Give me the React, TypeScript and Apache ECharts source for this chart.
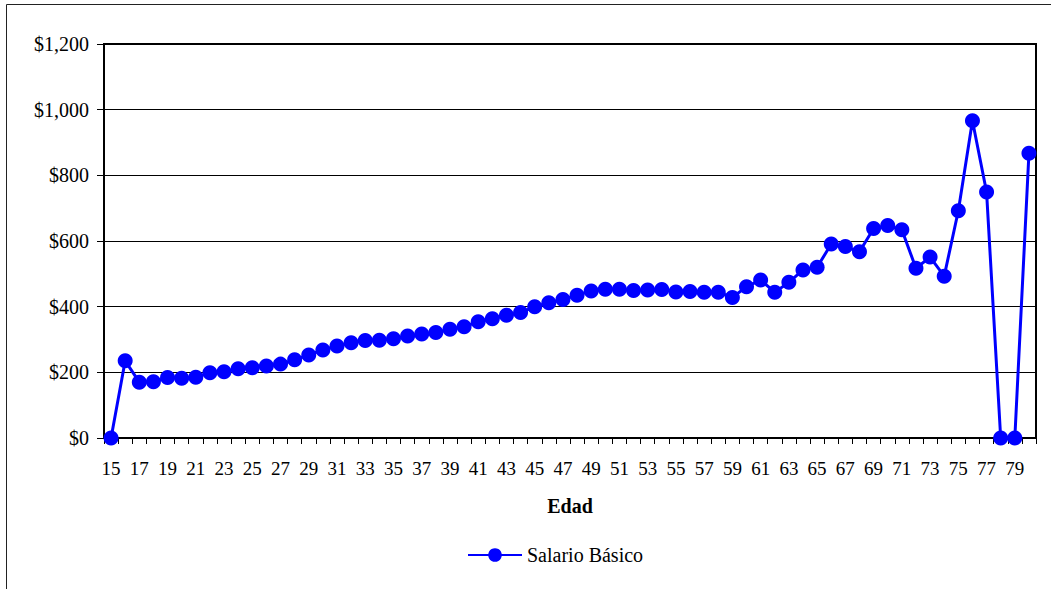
import React, { useEffect, useRef } from "react";
import * as echarts from "echarts";

const ages: string[] = [];
for (let a = 15; a <= 80; a++) ages.push(String(a));

const salarioBasico: number[] = [
  0, 235, 170, 171, 184, 182, 185, 199, 202, 211, 214, 219, 225, 238, 253, 268,
  280, 290, 297, 298, 302, 311, 317, 321, 331, 339, 354, 363, 374, 382, 400, 412,
  422, 435, 448, 453, 453, 449, 451, 452, 445, 446, 444, 444, 428, 461, 481, 444,
  474, 512, 520, 591, 583, 567, 638, 647, 634, 517, 551, 493, 692, 966, 749, 0,
  0, 867,
];

const seriesName = "Salario Básico";
const xAxisTitle = "Edad";
const yMin = 0;
const yMax = 1200;
const yStep = 200;

const FONT = "Liberation Serif";

function money(v: number): string {
  return "$" + v.toLocaleString("en-US");
}

export default function App() {
  const ref = useRef<HTMLDivElement>(null);
  useEffect(() => {
    if (!ref.current) return;
    const chart = echarts.init(ref.current, null, { renderer: "svg" });
    chart.setOption({
      animation: false,
      backgroundColor: "#fff",
      textStyle: { fontFamily: FONT, color: "#000" },
      graphic: [
        {
          type: "rect",
          shape: { x: 6.5, y: 4.5, width: 1100, height: 700 },
          style: { fill: "none", stroke: "#222", lineWidth: 1 },
          silent: true,
          z: -10,
        },
      ],
      grid: {
        left: 104,
        right: 15,
        top: 44,
        bottom: 151,
        show: true,
        borderColor: "#000",
        borderWidth: 2,
        backgroundColor: "transparent",
      },
      legend: {
        data: [seriesName],
        left: 462,
        top: 540,
        itemWidth: 54,
        itemHeight: 17,
        itemGap: 10,
        textStyle: { fontFamily: FONT, fontSize: 20, color: "#000" },
      },
      xAxis: {
        type: "category",
        data: ages,
        boundaryGap: true,
        name: xAxisTitle,
        nameLocation: "middle",
        nameGap: 58,
        nameTextStyle: { fontFamily: FONT, fontSize: 20, fontWeight: "bold", color: "#000" },
        axisLine: { show: true, lineStyle: { color: "#000", width: 2 } },
        axisTick: { show: true, interval: 0, length: 6, lineStyle: { color: "#000", width: 1 } },
        axisLabel: { interval: 1, fontFamily: FONT, fontSize: 19, color: "#000", margin: 21 },
        splitLine: { show: false },
      },
      yAxis: {
        type: "value",
        min: yMin,
        max: yMax,
        interval: yStep,
        axisLine: { show: true, lineStyle: { color: "#000", width: 2 } },
        axisTick: { show: true, length: 7, lineStyle: { color: "#000", width: 1 } },
        axisLabel: {
          fontFamily: FONT,
          fontSize: 20,
          color: "#000",
          margin: 15,
          formatter: (v: number) => money(v),
        },
        splitLine: { show: true, lineStyle: { color: "#000", width: 1 } },
      },
      series: [
        {
          name: seriesName,
          type: "line",
          data: salarioBasico,
          symbol: "circle",
          symbolSize: 15,
          showAllSymbol: true,
          clip: false,
          lineStyle: { color: "#0000FF", width: 3 },
          itemStyle: { color: "#0000FF", borderWidth: 0 },
        },
      ],
    });
    return () => chart.dispose();
  }, []);
  return (
    <div
      ref={ref}
      style={{ position: "absolute", left: 0, top: 0, width: 1051, height: 589 }}
    />
  );
}
